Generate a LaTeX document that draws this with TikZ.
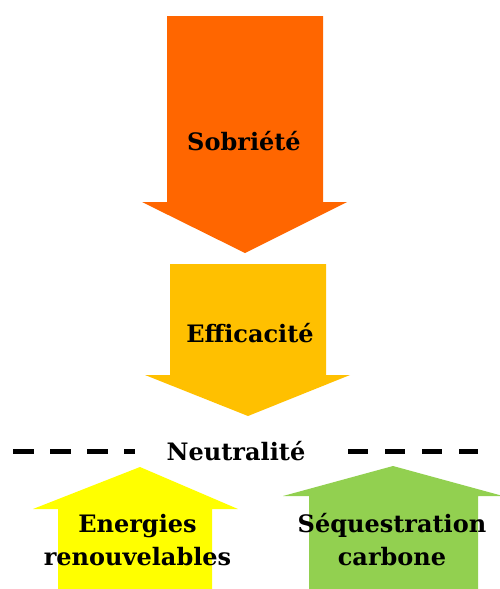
\documentclass[tikz,border=0pt]{standalone}
\usepackage{fontspec}
\setmainfont{DejaVu Serif}
\definecolor{sobr}{HTML}{FF6600}
\definecolor{effi}{HTML}{FFC000}
\definecolor{ener}{HTML}{FFFF00}
\definecolor{sequ}{HTML}{92D050}
\tikzset{
  lbl/.style={font=\bfseries\fontsize{24}{33}\selectfont, inner sep=0pt, text=black, anchor=base},
  neutr/.style={line width=5pt, dash pattern=on 21pt off 16pt, black},
}
\begin{document}
\begin{tikzpicture}[x=1pt,y=-1pt]
\useasboundingbox (0,0) rectangle (500,589);
\clip (0,0) rectangle (500,589);
% Sobriete arrow
\fill[sobr] (167,16) -- (323,16) -- (323,202) -- (347,202) -- (245,253) -- (142,202) -- (167,202) -- cycle;
% Efficacite arrow
\fill[effi] (170,264) -- (326,264) -- (326,375) -- (350,375) -- (248,416) -- (145,375) -- (170,375) -- cycle;
% Energies arrow
\fill[ener] (58,589) -- (58,509) -- (33,509) -- (140,467) -- (238,509) -- (212,509) -- (212,589) -- cycle;
% Sequestration arrow
\fill[sequ] (309,589) -- (309,496) -- (283,496) -- (393,466) -- (503,496) -- (478,496) -- (478,589) -- cycle;
% labels
\node[lbl] (sob) at (244,150) {Sobriété};
\node[lbl] (eff) at (250,342) {Efficacité};
\node[lbl] (neu) at (236,460) {Neutralité};
\node[lbl] (ene1) at (137.5,532) {Energies};
\node[lbl] (ene2) at (137.5,565) {renouvelables};
\node[lbl] (seq1) at (392,532) {Séquestration};
\node[lbl] (seq2) at (392,565) {carbone};
\coordinate (dl) at (13,451);
\coordinate (dr) at (478,451);
\draw[neutr] (dl) -- (135,451);
\draw[neutr, dash pattern=on 20pt off 17pt] (348,451) -- (dr);
\end{tikzpicture}
\end{document}
